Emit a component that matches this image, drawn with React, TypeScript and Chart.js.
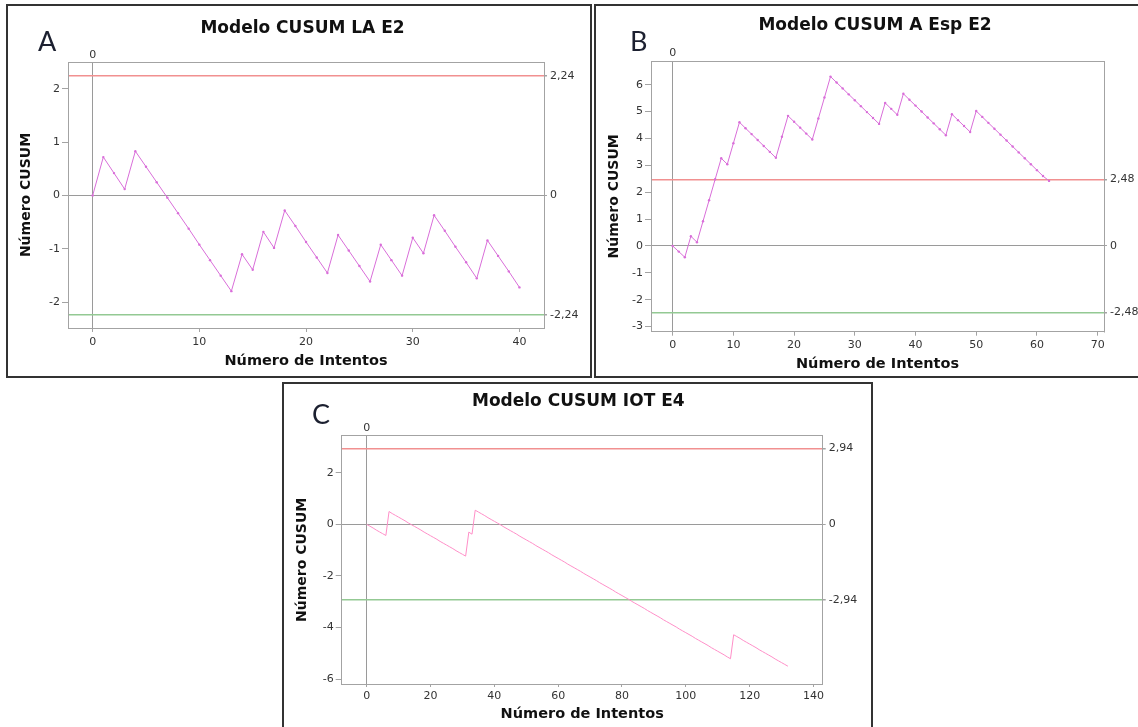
import React, { useEffect, useRef } from "react";
import { Chart, registerables } from "chart.js";

Chart.register(...registerables);

// ---------------- data ----------------
const yAxisTitle = "Número CUSUM";
const xAxisTitle = "Número de Intentos";
const originTick = [0];

// Panel A
const titleA = "Modelo CUSUM LA E2";
const cusumA = [
  0, 0.72, 0.42, 0.12, 0.83, 0.54, 0.25, -0.04, -0.33, -0.62, -0.92, -1.21, -1.5, -1.79,
  -1.1, -1.39, -0.68, -0.98, -0.28, -0.57, -0.87, -1.16, -1.45, -0.74, -1.03, -1.32, -1.61,
  -0.92, -1.21, -1.5, -0.79, -1.08, -0.37, -0.66, -0.96, -1.25, -1.55, -0.84, -1.13, -1.42, -1.72,
];
const controlA = [2.24, 0, -2.24];
const xTicksA = [0, 10, 20, 30, 40];
const yTicksA = [-2, -1, 0, 1, 2];

// Panel B
const titleB = "Modelo CUSUM A Esp E2";
const cusumB = [
  0, -0.21, -0.42, 0.36, 0.14, 0.92, 1.7, 2.48, 3.26, 3.04, 3.82, 4.6, 4.38, 4.16, 3.94,
  3.72, 3.5, 3.28, 4.06, 4.84, 4.62, 4.4, 4.18, 3.96, 4.74, 5.52, 6.3, 6.08, 5.86, 5.64,
  5.42, 5.2, 4.98, 4.76, 4.54, 5.32, 5.1, 4.88, 5.66, 5.44, 5.22, 5.0, 4.78, 4.56, 4.34,
  4.12, 4.9, 4.68, 4.46, 4.24, 5.02, 4.8, 4.58, 4.36, 4.14, 3.92, 3.7, 3.48, 3.26, 3.04,
  2.82, 2.6, 2.42,
];
const controlB = [2.48, 0, -2.48];
const xTicksB = [0, 10, 20, 30, 40, 50, 60, 70];
const yTicksB = [-3, -2, -1, 0, 1, 2, 3, 4, 5, 6];

// Panel C
const titleC = "Modelo CUSUM IOT E4";
const cusumC = [
  0, -0.07, -0.14, -0.22, -0.29, -0.36, -0.43, 0.5, 0.42, 0.35, 0.28, 0.21, 0.14, 0.06,
  -0.01, -0.08, -0.15, -0.22, -0.3, -0.37, -0.44, -0.51, -0.58, -0.66, -0.73, -0.8, -0.87,
  -0.94, -1.02, -1.09, -1.16, -1.23, -0.3, -0.38, 0.55, 0.48, 0.41, 0.34, 0.26, 0.19, 0.12,
  0.05, -0.02, -0.1, -0.17, -0.24, -0.31, -0.38, -0.46, -0.53, -0.6, -0.67, -0.74, -0.82,
  -0.89, -0.96, -1.03, -1.1, -1.18, -1.25, -1.32, -1.39, -1.46, -1.54, -1.61, -1.68, -1.75,
  -1.82, -1.9, -1.97, -2.04, -2.11, -2.18, -2.26, -2.33, -2.4, -2.47, -2.54, -2.62, -2.69,
  -2.76, -2.83, -2.9, -2.98, -3.05, -3.12, -3.19, -3.26, -3.34, -3.41, -3.48, -3.55, -3.62,
  -3.7, -3.77, -3.84, -3.91, -3.98, -4.06, -4.13, -4.2, -4.27, -4.34, -4.42, -4.49, -4.56,
  -4.63, -4.7, -4.78, -4.85, -4.92, -4.99, -5.06, -5.14, -5.21, -4.28, -4.35, -4.42, -4.5,
  -4.57, -4.64, -4.71, -4.78, -4.86, -4.93, -5.0, -5.07, -5.14, -5.22, -5.29, -5.36, -5.43,
  -5.5,
];
const controlC = [2.94, 0, -2.94];
const xTicksC = [0, 20, 40, 60, 80, 100, 120, 140];
const yTicksC = [-6, -4, -2, 0, 2];

// ---------------- styles ----------------
const FONT = "'DejaVu Sans', Verdana, sans-serif";
const FRAME = "#a3a3a3";
const ZERO = "#9a9a9a";
const RED = "#f19090";
const GREEN = "#93c993";
const TICK = "#333333";
const TITLE = "#111111";

type Spec = {
  letter: string;
  title: string;
  values: number[];
  control: number[];
  xTicks: number[];
  yTicks: number[];
  xMin: number;
  xMax: number;
  yMin: number;
  yMax: number;
  lineColor: string;
  pointRadius: number;
  box: { left: number; top: number; width: number; height: number; noRight?: boolean; noBottom?: boolean };
  axes: { left: number; right: number; top: number; bottom: number };
  xTickLen: number;
  xTickPad: number;
  topPad: number;
  xTitlePad: number;
  titleCx: number;
  titleTop: number;
  letterLeft: number;
  letterTop: number;
};

const specs: Spec[] = [
  {
    letter: "A",
    title: titleA,
    values: cusumA,
    control: controlA,
    xTicks: xTicksA,
    yTicks: yTicksA,
    xMin: -2.31,
    xMax: 42.3,
    yMin: -2.48,
    yMax: 2.5,
    lineColor: "#d96ed9",
    pointRadius: 1.2,
    box: { left: 6, top: 4, width: 582, height: 370 },
    axes: { left: 60, right: 46, top: 56, bottom: 48 },
    xTickLen: 4,
    xTickPad: 4,
    topPad: 0,
    xTitlePad: 6.3,
    titleCx: 302.5,
    titleTop: 16.7,
    letterLeft: 38,
    letterTop: 27.4,
  },
  {
    letter: "B",
    title: titleB,
    values: cusumB,
    control: controlB,
    xTicks: xTicksB,
    yTicks: yTicksB,
    xMin: -3.57,
    xMax: 71.05,
    yMin: -3.19,
    yMax: 6.88,
    lineColor: "#d96ed9",
    pointRadius: 1.2,
    box: { left: 594, top: 4, width: 542, height: 370, noRight: true },
    axes: { left: 55, right: 34, top: 55, bottom: 44.3 },
    xTickLen: 4,
    xTickPad: 3,
    topPad: 1,
    xTitlePad: 3.3,
    titleCx: 875,
    titleTop: 13.7,
    letterLeft: 630,
    letterTop: 27.4,
  },
  {
    letter: "C",
    title: titleC,
    values: cusumC,
    control: controlC,
    xTicks: xTicksC,
    yTicks: yTicksC,
    xMin: -7.84,
    xMax: 142.9,
    yMin: -6.19,
    yMax: 3.44,
    lineColor: "#ff8fc8",
    pointRadius: 0,
    box: { left: 282, top: 382, width: 587, height: 343, noBottom: true },
    axes: { left: 57.7, right: 48.3, top: 51.7, bottom: 43 },
    xTickLen: 3,
    xTickPad: 3,
    topPad: 1,
    xTitlePad: 4.3,
    titleCx: 578.3,
    titleTop: 390,
    letterLeft: 312,
    letterTop: 400.4,
  },
];

const tickFont = { family: FONT, size: 11 };

function buildConfig(s: Spec): any {
  const setTicks = (vals: number[]) => (axis: any) => {
    axis.ticks = vals.map((v) => ({ value: v }));
  };
  const num = (v: any) => String(v);
  const limitLabel = (v: any) =>
    v === 0 ? "0" : (v < 0 ? "-" : "") + Math.abs(v).toFixed(2).replace(".", ",");
  const refColor = (ctx: any) => {
    const v = ctx.tick ? ctx.tick.value : 0;
    if (v > 0) return RED;
    if (v < 0) return GREEN;
    return ZERO;
  };
  const refWidth = (ctx: any) => {
    const v = ctx.tick ? ctx.tick.value : 0;
    return v === 0 ? 1 : 1.5;
  };
  const border = { display: true, color: FRAME, width: 1 };
  return {
    type: "scatter",
    data: {
      datasets: [
        {
          data: s.values.map((v, i) => ({ x: i, y: v })),
          showLine: true,
          borderColor: s.lineColor,
          borderWidth: 1,
          pointRadius: s.pointRadius,
          pointBackgroundColor: s.lineColor,
          pointBorderWidth: 0,
          pointHoverRadius: 0,
          tension: 0,
        },
      ],
    },
    options: {
      responsive: false,
      maintainAspectRatio: false,
      animation: false,
      devicePixelRatio: 1,
      events: [],
      layout: { padding: 0, autoPadding: false },
      plugins: {
        legend: { display: false },
        tooltip: { enabled: false },
        title: { display: false },
      },
      scales: {
        x: {
          type: "linear",
          position: "bottom",
          min: s.xMin,
          max: s.xMax,
          bounds: "data",
          afterBuildTicks: setTicks(s.xTicks),
          afterFit: (a: any) => {
            a.height = s.axes.bottom;
          },
          grid: { drawOnChartArea: false, drawTicks: true, tickLength: s.xTickLen, tickColor: FRAME },
          border,
          ticks: { autoSkip: false, maxRotation: 0, padding: s.xTickPad, font: tickFont, color: TICK, callback: num },
          title: {
            display: true,
            text: xAxisTitle,
            color: TITLE,
            font: { family: FONT, size: 14.5, weight: "bold" },
            padding: { top: 0, bottom: s.xTitlePad },
          },
        },
        xTop: {
          type: "linear",
          position: "top",
          min: s.xMin,
          max: s.xMax,
          bounds: "data",
          afterBuildTicks: setTicks(originTick),
          afterFit: (a: any) => {
            a.height = s.axes.top;
          },
          grid: { drawOnChartArea: true, drawTicks: false, color: ZERO, lineWidth: 1 },
          border,
          ticks: { autoSkip: false, maxRotation: 0, padding: s.topPad, font: tickFont, color: TICK, callback: num },
        },
        y: {
          type: "linear",
          position: "left",
          min: s.yMin,
          max: s.yMax,
          bounds: "data",
          afterBuildTicks: setTicks(s.yTicks),
          afterFit: (a: any) => {
            a.width = s.axes.left;
          },
          grid: { drawOnChartArea: false, drawTicks: true, tickLength: 6, tickColor: FRAME },
          border,
          ticks: { autoSkip: false, padding: 2, font: tickFont, color: TICK, callback: num },
          title: {
            display: true,
            text: yAxisTitle,
            color: TITLE,
            font: { family: FONT, size: 14, weight: "bold" },
            padding: { top: 9.6, bottom: 0 },
          },
        },
        yRight: {
          type: "linear",
          position: "right",
          min: s.yMin,
          max: s.yMax,
          bounds: "data",
          afterBuildTicks: setTicks(s.control),
          afterFit: (a: any) => {
            a.width = s.axes.right;
          },
          grid: {
            drawOnChartArea: true,
            drawTicks: true,
            tickLength: 3,
            tickColor: FRAME,
            color: refColor,
            lineWidth: refWidth,
          },
          border,
          ticks: { autoSkip: false, padding: 3, font: tickFont, color: TICK, callback: limitLabel },
        },
      },
    },
  };
}

function Panel({ spec }: { spec: Spec }) {
  const ref = useRef<HTMLCanvasElement>(null);
  useEffect(() => {
    if (!ref.current) return;
    const chart = new Chart(ref.current, buildConfig(spec));
    return () => chart.destroy();
  }, [spec]);
  const b = spec.box;
  return (
    <div
      style={{
        position: "absolute",
        left: b.left,
        top: b.top,
        width: b.width,
        height: b.height,
        borderTop: "2px solid #333",
        borderLeft: "2px solid #333",
        borderRight: b.noRight ? "none" : "2px solid #333",
        borderBottom: b.noBottom ? "none" : "2px solid #333",
        background: "#fff",
      }}
    >
      <canvas
        ref={ref}
        width={b.width}
        height={b.height}
        style={{ position: "absolute", left: 0, top: 0, width: b.width, height: b.height }}
      />
    </div>
  );
}

export default function App() {
  return (
    <div
      style={{
        position: "absolute",
        left: 0,
        top: 0,
        width: 1138,
        height: 727,
        overflow: "hidden",
        background: "#fff",
      }}
    >
      {specs.map((s) => (
        <Panel key={s.letter} spec={s} />
      ))}
      {specs.map((s) => (
        <div
          key={"t" + s.letter}
          style={{
            position: "absolute",
            left: s.titleCx,
            top: s.titleTop,
            transform: "translateX(-50%)",
            fontFamily: FONT,
            fontWeight: "bold",
            fontSize: 17,
            lineHeight: "20px",
            whiteSpace: "nowrap",
            color: TITLE,
          }}
        >
          {s.title}
        </div>
      ))}
      {specs.map((s) => (
        <div
          key={"l" + s.letter}
          style={{
            position: "absolute",
            left: s.letterLeft,
            top: s.letterTop,
            fontFamily: "Lato, 'Open Sans', sans-serif",
            fontSize: 27,
            lineHeight: "27px",
            color: "#1c2030",
          }}
        >
          {s.letter}
        </div>
      ))}
    </div>
  );
}
